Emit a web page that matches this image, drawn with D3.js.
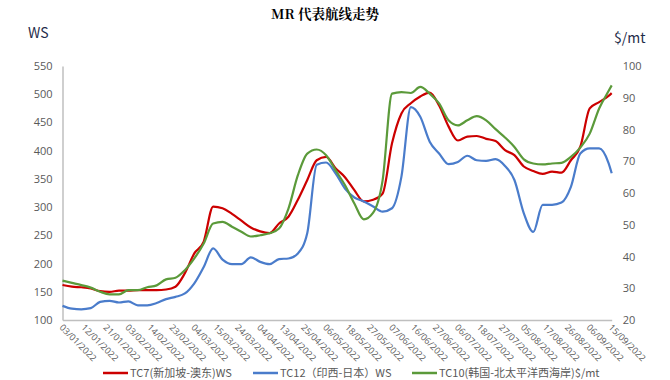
<!DOCTYPE html>
<html><head><meta charset="utf-8">
<script src="https://cdn.jsdelivr.net/npm/d3@7"></script>
<style>
body{margin:0;background:#fff;}
svg{display:block;font-family:"Noto Sans CJK SC","Noto Sans",sans-serif;}
</style></head>
<body><svg id="c" width="670" height="380"></svg>
<script>
// category tick labels (every 7th trading day)
const tickLabels = ["03/01/2022","12/01/2022","21/01/2022","03/02/2022","14/02/2022","23/02/2022","04/03/2022","15/03/2022","24/03/2022","04/04/2022","13/04/2022","25/04/2022","06/05/2022","18/05/2022","27/05/2022","07/06/2022","16/06/2022","27/06/2022","06/07/2022","18/07/2022","27/07/2022","05/08/2022","17/08/2022","26/08/2022","06/09/2022","15/09/2022"];
// trading-day index of each sampled point
const dayIdx = [0,3,6,9,12,15,18,21,24,27,30,33,36,39,42,45,48,51,54,57,60,63,66,69,72,75,78,81,84,87,90,93,96,99,102,105,108,111,114,117,120,123,126,129,132,135,138,141,144,147,150,153,156,159,162,165,168,171,174,175];
// TC7 (WS)
const tc7 = [162,159,158,156,151,150,152,152,153,153,153,154,159,183,218,239,301,298,288,276,264,257,254,271,283,313,348,383,389,369,353,330,310,313,324,413,466,484,496,503,480,443,418,425,426,421,417,401,392,372,364,359,363,361,383,407,475,486,497,502];
// TC12 (WS)
const tc12 = [125,120,119,121,132,134,131,133,126,126,130,137,141,147,165,194,227,207,199,199,211,203,199,208,209,218,254,375,379,360,333,317,310,301,292,298,354,477,460,416,395,376,380,391,383,382,385,373,348,289,256,304,304,308,336,395,404,404,378,360];
// TC10 ($/mt, right axis)
const tc10 = [32.4,31.7,31.0,30.2,28.9,28.1,28.1,29.4,29.4,30.3,30.9,32.8,33.3,35.7,39.4,44.1,50.4,50.9,49.4,47.8,46.3,46.7,47.3,48.8,55.1,65.6,72.4,73.7,71.9,67.2,62.5,56.7,51.7,53.8,64.0,91.3,91.8,91.5,93.4,91.3,88.2,82.9,81.3,82.9,84.2,82.9,80.1,77.5,74.5,70.6,69.3,69.0,69.3,69.5,71.4,74.3,78.7,86.6,92.1,93.9];
const leftTicks = [100,150,200,250,300,350,400,450,500,550];
const rightTicks = [20,30,40,50,60,70,80,90,100];
const seriesNames = ["TC7(新加坡-澳东)WS","TC12（印西-日本）WS","TC10(韩国-北太平洋西海岸)$/mt"];

const svg = d3.select("#c");
const L = 62.5, R = 611.7, T = 66, B = 320;
const x = d3.scaleLinear().domain([0, 175]).range([L, R]);
const yL = d3.scaleLinear().domain([100, 550]).range([B, T]);
const yR = d3.scaleLinear().domain([20, 100]).range([B, T]);
const colors = ["#CC0000", "#4A7CCB", "#5B9A3A"];
const txt = "#595959";

// title
svg.append("text").attr("x", 325).attr("y", 19).attr("text-anchor", "middle")
  .attr("font-size", 13.5).attr("font-weight", "bold").attr("fill", "#000")
  .attr("font-family", "'Noto Serif CJK SC','Noto Sans CJK SC',serif")
  .text("MR 代表航线走势");

// axis unit labels
svg.append("text").attr("x", 28).attr("y", 38).attr("font-size", 14).attr("fill", "#1F2D4A").text("WS");
svg.append("text").attr("x", 614).attr("y", 43).attr("font-size", 14).attr("fill", "#1F2D4A").text("$/mt");

// left axis
const gL = svg.append("g").attr("transform", `translate(${L},0)`)
  .call(d3.axisLeft(yL).tickValues(leftTicks).tickSize(0).tickPadding(10));
gL.select(".domain").attr("stroke", "#bfbfbf").attr("stroke-width", 1.5);
gL.selectAll("text").attr("font-size", 11).attr("fill", txt).attr("font-family", "'Open Sans','Noto Sans',sans-serif");

// right axis (labels only)
const gR = svg.append("g").attr("transform", `translate(${R},0)`)
  .call(d3.axisRight(yR).tickValues(rightTicks).tickSize(0).tickPadding(11));
gR.select(".domain").remove();
gR.selectAll("text").attr("font-size", 11).attr("fill", txt).attr("font-family", "'Open Sans','Noto Sans',sans-serif");

// bottom axis
const tickIdx = tickLabels.map((d, i) => i * 7);
const gB = svg.append("g").attr("transform", `translate(0,${B})`)
  .call(d3.axisBottom(x).tickValues(tickIdx).tickSize(0).tickFormat((d, i) => tickLabels[i]));
gB.select(".domain").attr("stroke", "#bfbfbf").attr("stroke-width", 1.5);
gB.selectAll("text").attr("font-size", 9).attr("fill", txt)
  .attr("font-family", "'Open Sans','Noto Sans',sans-serif")
  .attr("text-anchor", "start").attr("dy", null)
  .attr("transform", "translate(-2,6) rotate(45)");

// lines
const mk = (vals, ys) => d3.line().x((d, i) => x(dayIdx[i])).y(d => ys(d)).curve(d3.curveMonotoneX)(vals);
[[tc7, yL, 0], [tc12, yL, 1], [tc10, yR, 2]].forEach(([v, s, k]) => {
  svg.append("path").attr("d", mk(v, s)).attr("fill", "none")
    .attr("stroke", colors[k]).attr("stroke-width", 2.2).attr("stroke-linejoin", "round");
});

// legend
const legX = [103, 253, 412];
seriesNames.forEach((n, k) => {
  svg.append("line").attr("x1", legX[k]).attr("x2", legX[k] + 25).attr("y1", 373).attr("y2", 373)
    .attr("stroke", colors[k]).attr("stroke-width", 2.5);
  svg.append("text").attr("x", legX[k] + 27).attr("y", 377).attr("font-size", 11).attr("fill", txt).text(n);
});
</script></body></html>
